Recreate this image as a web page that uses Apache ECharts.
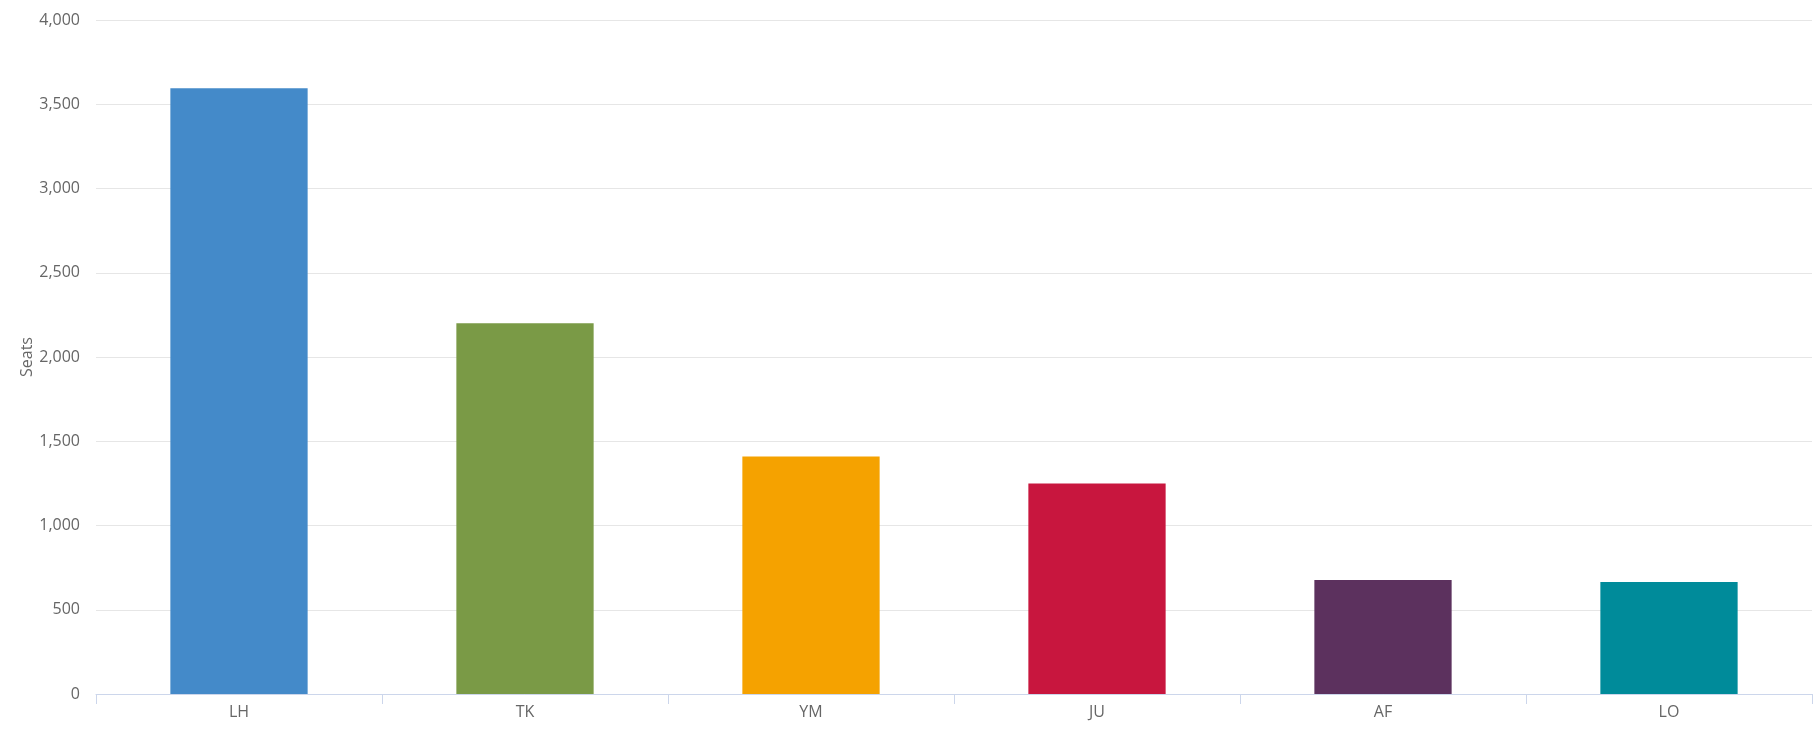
<!DOCTYPE html>
<html>
<head>
<meta charset="utf-8">
<script src="https://cdn.jsdelivr.net/npm/echarts@6/dist/echarts.min.js"></script>
<style>html,body{margin:0;padding:0;background:#fff}#c{width:1820px;height:738px}</style>
</head>
<body>
<div id="c"></div>
<script>
const categories = ["LH", "TK", "YM", "JU", "AF", "LO"];
const seats = [3595, 2200, 1410, 1250, 677, 665];
const barColors = ["#448ac9", "#7a9a46", "#f5a200", "#c8163e", "#5c315e", "#008b9a"];
const yTicks = { min: 0, max: 4000, interval: 500 };

const chart = echarts.init(document.getElementById('c'));
const font = '"Open Sans", "Noto Sans", sans-serif';
chart.setOption({
  animation: false,
  grid: { left: 96, right: 8, top: 20, bottom: 44, containLabel: false },
  xAxis: {
    type: 'category',
    data: categories,
    axisLine: { lineStyle: { color: '#ccd6eb' } },
    axisTick: { show: true, length: 10, lineStyle: { color: '#ccd6eb' } },
    axisLabel: { color: '#666', fontSize: 16, fontFamily: font, margin: 10 }
  },
  yAxis: {
    type: 'value',
    min: yTicks.min, max: yTicks.max, interval: yTicks.interval,
    name: 'Seats',
    nameLocation: 'middle',
    nameGap: 61,
    nameMoveOverlap: false,
    nameRotate: 90,
    nameTextStyle: { color: '#666', fontSize: 16, fontFamily: font },
    axisLine: { show: false },
    axisTick: { show: false },
    splitLine: { lineStyle: { color: '#e6e6e6' } },
    axisLabel: {
      color: '#666', fontSize: 16, fontFamily: font, margin: 16,
      formatter: v => v.toLocaleString('en-US')
    }
  },
  series: [{
    type: 'bar',
    barWidth: '48%',
    data: seats.map((v, i) => ({ value: v, itemStyle: { color: barColors[i] } }))
  }]
});
</script>
</body>
</html>
